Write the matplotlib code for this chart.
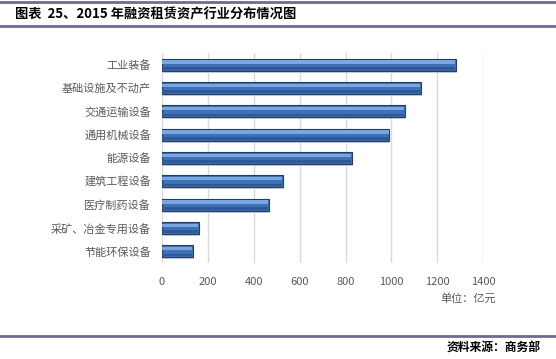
import numpy as np
import matplotlib.pyplot as plt
from matplotlib.lines import Line2D

plt.rcParams['font.family'] = ['Noto Sans CJK SC', 'DejaVu Sans']

categories = ['工业装备', '基础设施及不动产', '交通运输设备', '通用机械设备', '能源设备',
              '建筑工程设备', '医疗制药设备', '采矿、冶金专用设备', '节能环保设备']
values = [1280, 1130, 1057, 991, 827, 527, 468, 163, 134]
xticks = [0, 200, 400, 600, 800, 1000, 1200, 1400]

fig = plt.figure(figsize=(5.56, 3.59), dpi=100)
W, H = 556, 359

ax = fig.add_axes([162 / W, 1 - 263 / H, (483.3 - 162) / W, (263 - 53) / H])

y = np.arange(len(categories))
vals = np.array(values)
# shadow, body, highlight bands
ax.barh(y + 0.08, vals, height=0.52, color='#cfcfcf', left=4, zorder=2)
ax.barh(y, vals, height=0.52, color='#3d70b4', edgecolor='#1f3d6a', linewidth=0.8, zorder=3)
ax.barh(y - 0.12, vals - 6, height=0.14, left=2, color='#78a6e0', linewidth=0, zorder=4)
ax.barh(y + 0.16, vals - 6, height=0.12, left=2, color='#2c5a98', linewidth=0, zorder=4)

ax.set_ylim(len(categories) - 0.5, -0.5)
ax.set_xlim(0, 1400)
ax.set_xticks(xticks)
ax.set_xticklabels([str(t) for t in xticks])
ax.set_yticks(y)
ax.set_yticklabels(categories)
ax.tick_params(axis='both', length=0, labelsize=8, colors='#595959')
ax.tick_params(axis='x', pad=10)
ax.tick_params(axis='y', pad=8)
ax.grid(axis='x', color='#d9d9d9', linewidth=1, zorder=0)
ax.set_axisbelow(True)
for s in ax.spines.values():
    s.set_visible(False)

ax.text(1.04, -0.17, '单位：亿元', transform=ax.transAxes, ha='right', va='center',
        fontsize=8, color='#595959')

# header / footer rules
line_color = '#6b6b96'
fig.add_artist(Line2D([0, 1], [1 - 1.5 / H, 1 - 1.5 / H], color=line_color, lw=2))
fig.add_artist(Line2D([0, 1], [1 - 26 / H, 1 - 26 / H], color=line_color, lw=2))
fig.add_artist(Line2D([0, 1], [1 - 336 / H, 1 - 336 / H], color=line_color, lw=2))

fig.text(15 / W, 1 - 14 / H, '图表  25、2015 年融资租赁资产行业分布情况图', fontsize=9.5,
         fontweight='bold', ha='left', va='center', color='black')
fig.text(541 / W, 1 - 347 / H, '资料来源：商务部', fontsize=8.5, fontweight='bold',
         style='italic', ha='right', va='center', color='black')

fig.savefig('out.png', dpi=100)
